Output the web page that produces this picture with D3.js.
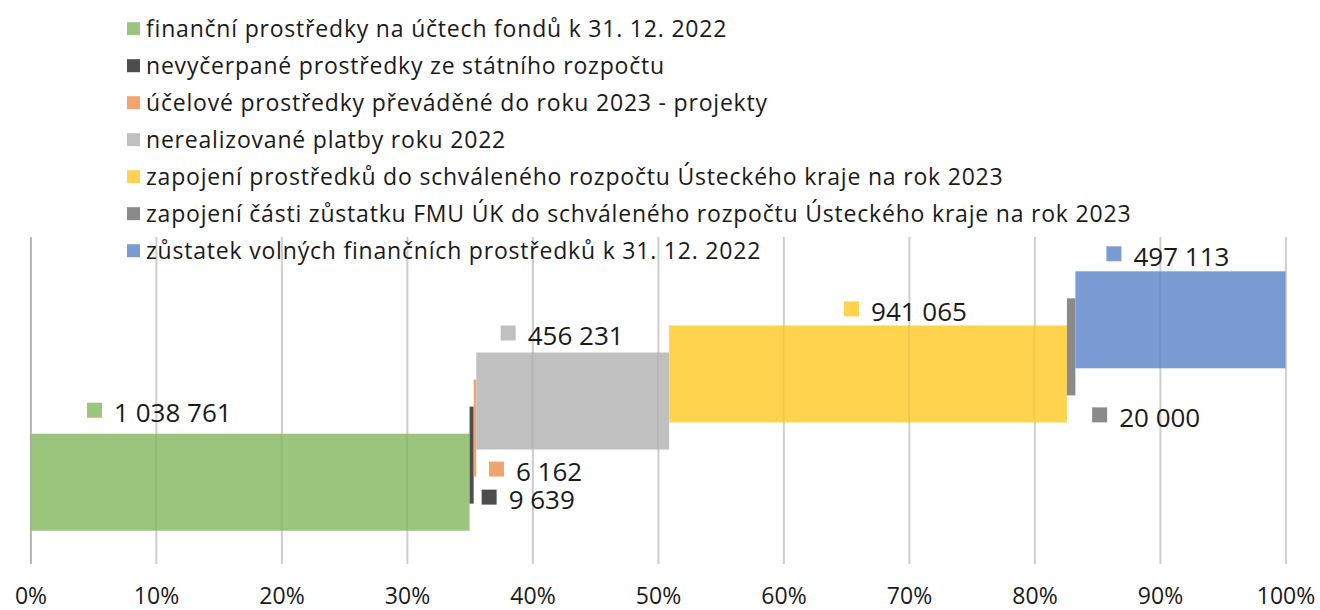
<!DOCTYPE html>
<html>
<head>
<meta charset="utf-8">
<script src="https://cdn.jsdelivr.net/npm/d3@7"></script>
<style>
  body { margin: 0; background: #fff; }
  svg { display: block; font-family: 'Open Sans', sans-serif; }
</style>
</head>
<body>
<div id="chart"></div>
<script>
// data (tis. Kč)
const seriesNames = [
  'finanční prostředky na účtech fondů k 31. 12. 2022',
  'nevyčerpané prostředky ze státního rozpočtu',
  'účelové prostředky převáděné do roku 2023 - projekty',
  'nerealizované platby roku 2022',
  'zapojení prostředků do schváleného rozpočtu Ústeckého kraje na rok 2023',
  'zapojení části zůstatku FMU ÚK do schváleného rozpočtu Ústeckého kraje na rok 2023',
  'zůstatek volných finančních prostředků k 31. 12. 2022',
];
const seriesValues = [1038761, 9639, 6162, 456231, 941065, 20000, 497113];
const tickLabels = ['0%', '10%', '20%', '30%', '40%', '50%', '60%', '70%', '80%', '90%', '100%'];

// styling / layout
const colors = ['#9BC47C', '#4D4D4D', '#F2A46F', '#C0C0C0', '#FFD34E', '#8A8A8A', '#7B9BD5'];
// hand-moved data labels: [dx, dy] of the label key relative to the bar centre
const labelNudge = [[-163, -72], [10, 42], [14, 41], [-72, -68], [-24, -65], [21, 68], [-74, -66]];

const width = 1320;
const height = 610;
const plotLeft = 30.5;
const plotRight = 1285.5;
const plotTop = 237;
const plotBottom = 564;
const barHeight = 97;

const total = d3.sum(seriesValues);
const starts = [0].concat(Array.from(d3.cumsum(seriesValues)).slice(0, -1));

const x = d3.scaleLinear()
    .domain([0, 1])
    .range([plotLeft, plotRight]);

const y = d3.scalePoint()
    .domain(seriesNames)
    .range([plotBottom + 1, plotTop])
    .padding(3.06);

const fmt = d3.formatLocale({decimal: ',', thousands: ' ', grouping: [3], currency: ['', '']}).format(',');

const svg = d3.select('#chart')
  .append('svg')
    .attr('width', width)
    .attr('height', height);

const rows = seriesNames.map(function(name, i) {
  return {
    name: name,
    value: seriesValues[i],
    start: starts[i] / total,
    end: (starts[i] + seriesValues[i]) / total,
    color: colors[i],
    nudge: labelNudge[i],
  };
});

const tickVals = d3.range(tickLabels.length).map(function(i) {
  return i / (tickLabels.length - 1);
});

const xAxis = d3.axisBottom(x)
    .tickValues(tickVals)
    .tickFormat(function(d, i) { return tickLabels[i]; })
    .tickSize(-(plotBottom - plotTop));

// gridlines + tick labels under the bars
const axisG = svg.append('g')
    .attr('transform', 'translate(0,' + plotBottom + ')')
    .call(xAxis);

axisG.select('.domain').remove();
axisG.selectAll('.tick line')
    .attr('stroke', function(d, i) { return i === 0 ? '#BFBFBF' : '#D9D9D9'; })
    .attr('stroke-width', 2);
axisG.selectAll('.tick text')
    .attr('y', 0)
    .attr('dy', 40)
    .attr('fill', '#1a1a1a')
    .attr('font-size', 23)
    .attr('font-family', "'Open Sans', sans-serif");

// bars
svg.append('g')
  .selectAll('rect')
  .data(rows)
  .enter()
  .append('rect')
    .attr('x', function(d) { return x(d.start); })
    .attr('y', function(d) { return y(d.name) - barHeight / 2; })
    .attr('width', function(d) { return x(d.end) - x(d.start); })
    .attr('height', barHeight)
    .attr('fill', function(d) { return d.color; });

// faint gridlines showing through the bars
svg.append('g')
  .selectAll('line')
  .data(tickVals)
  .enter()
  .append('line')
    .attr('x1', function(d) { return x(d); })
    .attr('x2', function(d) { return x(d); })
    .attr('y1', plotTop)
    .attr('y2', plotBottom)
    .attr('stroke', '#000')
    .attr('stroke-opacity', 0.05)
    .attr('stroke-width', 2);

// data labels
const labels = svg.append('g')
  .selectAll('g')
  .data(rows)
  .enter()
  .append('g')
    .attr('transform', function(d) {
      const cx = (x(d.start) + x(d.end)) / 2 + d.nudge[0];
      const cy = y(d.name) + d.nudge[1];
      return 'translate(' + cx + ',' + cy + ')';
    });

labels.append('rect')
    .attr('x', 0)
    .attr('y', -7.5)
    .attr('width', 15)
    .attr('height', 15)
    .attr('fill', function(d) { return d.color; });

labels.append('text')
    .attr('x', 27)
    .attr('y', 12)
    .attr('font-size', 26)
    .attr('fill', '#1a1a1a')
    .text(function(d) { return fmt(d.value); });

// legend
const legend = svg.append('g')
    .attr('transform', 'translate(127,28.7)');

const legendItems = legend.selectAll('g')
  .data(rows)
  .enter()
  .append('g')
    .attr('transform', function(d, i) { return 'translate(0,' + i * 37 + ')'; });

legendItems.append('rect')
    .attr('x', 0)
    .attr('y', -6.5)
    .attr('width', 13)
    .attr('height', 13)
    .attr('fill', function(d) { return d.color; });

legendItems.append('text')
    .attr('x', 19)
    .attr('y', 8)
    .attr('font-size', 23)
    .attr('letter-spacing', 0.8)
    .attr('fill', '#1a1a1a')
    .text(function(d) { return d.name; });
</script>
</body>
</html>
